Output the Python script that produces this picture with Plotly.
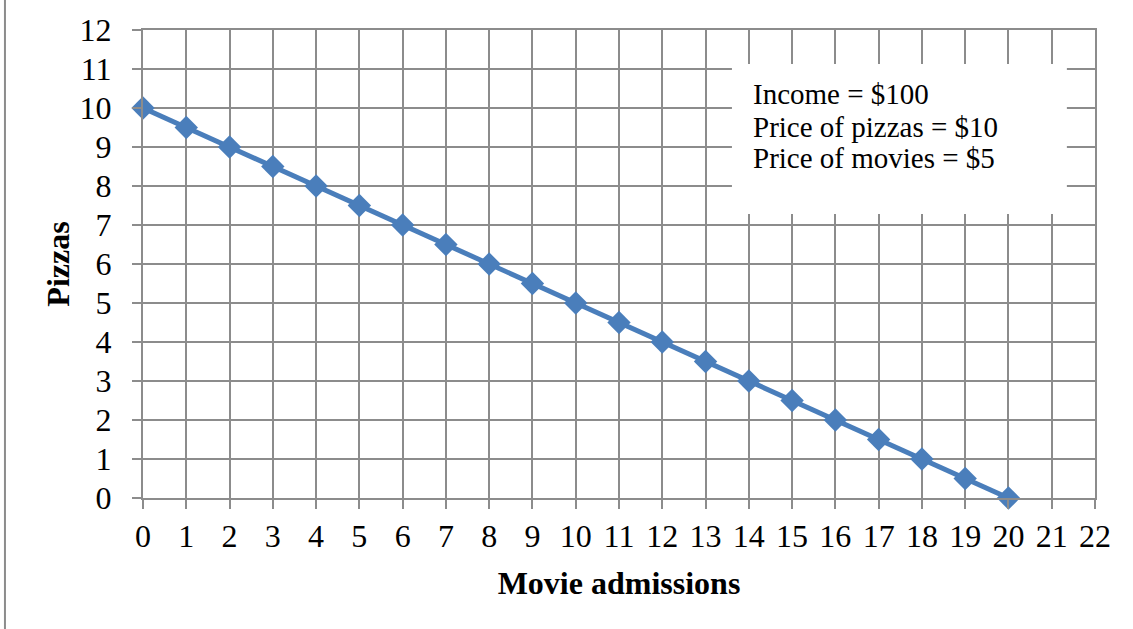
import plotly.graph_objects as go

# Budget line: movies on x, pizzas on y
movies = list(range(0, 21))
pizzas = [10, 9.5, 9, 8.5, 8, 7.5, 7, 6.5, 6, 5.5, 5, 4.5, 4, 3.5, 3, 2.5, 2, 1.5, 1, 0.5, 0]

x_ticks = list(range(0, 23))
y_ticks = list(range(0, 13))

info_lines = ["Income = $100", "Price of pizzas = $10", "Price of movies = $5"]
info_y = [10.37, 9.52, 8.71]

FONT = "Liberation Serif"
GRID = "#8c8c8c"
BLUE = "#4a7ebb"

fig = go.Figure()
fig.add_trace(go.Scatter(
    x=movies, y=pizzas, mode="lines+markers",
    line=dict(color=BLUE, width=5),
    marker=dict(symbol="diamond", size=18, color=BLUE),
    cliponaxis=False,
    showlegend=False,
))

axis_common = dict(
    showgrid=True, gridcolor=GRID, gridwidth=2,
    showline=True, linecolor=GRID, linewidth=2, mirror=True,
    zeroline=False,
    ticks="outside", ticklen=9, tickwidth=2, tickcolor=GRID,
    tickfont=dict(family=FONT, size=32, color="black"),
)

fig.update_xaxes(
    range=[0, 22], tickvals=x_ticks, ticktext=[str(v) for v in x_ticks],
    title=dict(text="<b>Movie admissions</b>", font=dict(family=FONT, size=32, color="black"), standoff=18),
    ticklabelstandoff=0,
    **axis_common,
)
fig.update_yaxes(
    range=[0, 12], tickvals=y_ticks, ticktext=[str(v) for v in y_ticks],
    title=dict(text="<b>Pizzas</b>", font=dict(family=FONT, size=32, color="black"), standoff=0),
    ticklabelstandoff=14,
    **axis_common,
)

# White note box covering the grid
fig.add_shape(type="rect", xref="x", yref="y", x0=13.61, x1=21.35, y0=7.28, y1=11.13,
              fillcolor="white", line=dict(width=0), layer="above")
for txt, yy in zip(info_lines, info_y):
    fig.add_annotation(x=14.05, y=yy, xref="x", yref="y", text=txt, showarrow=False,
                       xanchor="left", yanchor="middle",
                       font=dict(family=FONT, size=29, color="black"))

# Left frame edge
fig.add_shape(type="line", xref="paper", yref="paper", x0=-0.145, x1=-0.145, y0=-0.3, y1=1.1,
              line=dict(color=GRID, width=2), layer="above")

fig.update_layout(
    width=1133, height=629,
    margin=dict(l=143, r=38, t=28, b=131),
    paper_bgcolor="white", plot_bgcolor="white",
)

fig.write_html("out.html")
